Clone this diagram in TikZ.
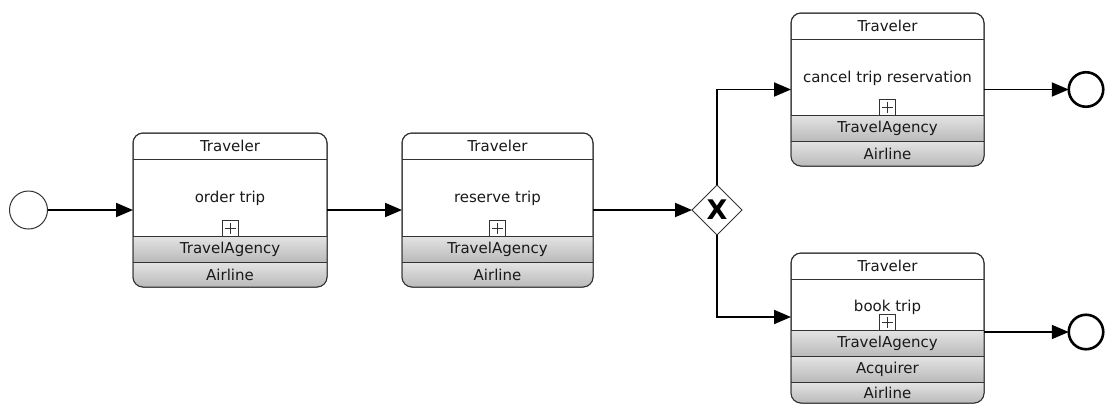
\documentclass[tikz,border=0pt]{standalone}
\usepackage{fontspec}
\setmainfont{DejaVu Sans}
\usetikzlibrary{arrows.meta,shapes.geometric,calc}
\definecolor{bandtop}{RGB}{228,228,228}
\definecolor{bandbot}{RGB}{186,186,186}
\definecolor{framecol}{RGB}{50,50,50}
\tikzset{
  taskframe/.style={draw=framecol, line width=1pt, rounded corners=10pt, fill=white, inner sep=0pt, outer sep=0pt},
  framedraw/.style={draw=framecol, line width=1pt, rounded corners=10pt},
  sepline/.style={draw=framecol, line width=1pt},
  band/.style={top color=bandtop, bottom color=bandbot},
  lbl/.style={font=\fontsize{15}{18}\selectfont, inner sep=0pt, text=black!90},
  flow/.style={line width=1.9pt, -{Triangle[length=17pt,width=14pt]}},
  startev/.style={circle, draw=black!80, line width=1pt, minimum size=38pt, inner sep=0pt, outer sep=0pt, fill=white},
  endev/.style={circle, draw=black, line width=2.6pt, minimum size=34.5pt, inner sep=0pt, outer sep=0pt, fill=white},
  gateway/.style={diamond, draw=black!80, line width=1pt, minimum width=50pt, minimum height=50pt, inner sep=0pt, outer sep=0pt, aspect=1, fill=white, font=\fontsize{27}{27}\selectfont\bfseries},
  plusbox/.style={draw=framecol, line width=0.8pt, fill=white, minimum size=16pt, inner sep=0pt,
    path picture={\draw[framecol,line width=0.8pt]
      ([xshift=-5.5pt]path picture bounding box.center) -- ([xshift=5.5pt]path picture bounding box.center)
      ([yshift=-5.5pt]path picture bounding box.center) -- ([yshift=5.5pt]path picture bounding box.center);}},
}
% #1 task name, #2 left, #3 right, #4 top, #5 bottom, #6 text, #7 node name
\newcommand\bandrow[7]{%
  \begin{scope}
    \clip[rounded corners=10pt] (#1.south west) rectangle (#1.north east);
    \shade[band] (#2,#4) rectangle (#3,#5);
  \end{scope}
  \draw[sepline] (#2,#4) -- (#3,#4);
  \node[lbl] (#7) at ({(#2+#3)/2},{(#4+#5)/2}) {#6};
}
% #1 name, #2 left, #3 right, #4 top, #5 bottom, #6 header line y
\newcommand\taskframe[6]{%
  \node[taskframe, minimum width={#3-#2}, minimum height={#5-#4}] (#1) at ({(#2+#3)/2},{(#4+#5)/2}) {};
  \draw[sepline] (#2,#6) -- (#3,#6);
  \node[lbl] (#1h) at ({(#2+#3)/2},{(#4+#6)/2}) {Traveler};
}
\begin{document}
\begin{tikzpicture}[x=1pt,y=-1pt]
\useasboundingbox (0,0) rectangle (1105,405);

% task 1
\taskframe{t1}{133}{327}{133}{287}{159}
\node[lbl] (t1l) at (230,198) {order trip};
\bandrow{t1}{133}{327}{236}{262}{TravelAgency}{t1a}
\bandrow{t1}{133}{327}{262}{287}{Airline}{t1b}
\node[plusbox] (t1p) at (230,228) {};
\draw[framedraw] (t1.south west) rectangle (t1.north east);

% task 2
\taskframe{t2}{402}{593}{133}{287}{159}
\node[lbl] (t2l) at (497.5,198) {reserve trip};
\bandrow{t2}{402}{593}{236}{262}{TravelAgency}{t2a}
\bandrow{t2}{402}{593}{262}{287}{Airline}{t2b}
\node[plusbox] (t2p) at (497.5,228) {};
\draw[framedraw] (t2.south west) rectangle (t2.north east);

% task 3
\taskframe{t3}{791}{984}{13}{166}{39}
\node[lbl] (t3l) at (887.5,78) {cancel trip reservation};
\bandrow{t3}{791}{984}{115}{141}{TravelAgency}{t3a}
\bandrow{t3}{791}{984}{141}{166}{Airline}{t3b}
\node[plusbox] (t3p) at (887.5,107) {};
\draw[framedraw] (t3.south west) rectangle (t3.north east);

% task 4
\taskframe{t4}{791}{984}{253}{403}{279}
\node[lbl] (t4l) at (887.5,307) {book trip};
\bandrow{t4}{791}{984}{330}{356}{TravelAgency}{t4a}
\bandrow{t4}{791}{984}{356}{382}{Acquirer}{t4b}
\bandrow{t4}{791}{984}{382}{403}{Airline}{t4c}
\node[plusbox] (t4p) at (887.5,322) {};
\draw[framedraw] (t4.south west) rectangle (t4.north east);

% events and gateway
\node[startev] (s) at (28.5,210) {};
\node[gateway] (gw) at (717,210) {X};
\node[endev] (e1) at (1086,89.5) {};
\node[endev] (e2) at (1086,332) {};

% flows
\draw[flow] (s.east) -- (t1.west);
\draw[flow] (t1.east) -- (t2.west);
\draw[flow] (t2.east) -- (gw.west);
\draw[flow] (gw.north) |- (t3.west);
\draw[flow] (gw.south) |- ([yshift=11pt]t4.west);
\draw[flow] (t3.east) -- (e1.west);
\draw[flow] ([yshift=-4pt]t4.east) -- (e2.west);
\end{tikzpicture}
\end{document}
